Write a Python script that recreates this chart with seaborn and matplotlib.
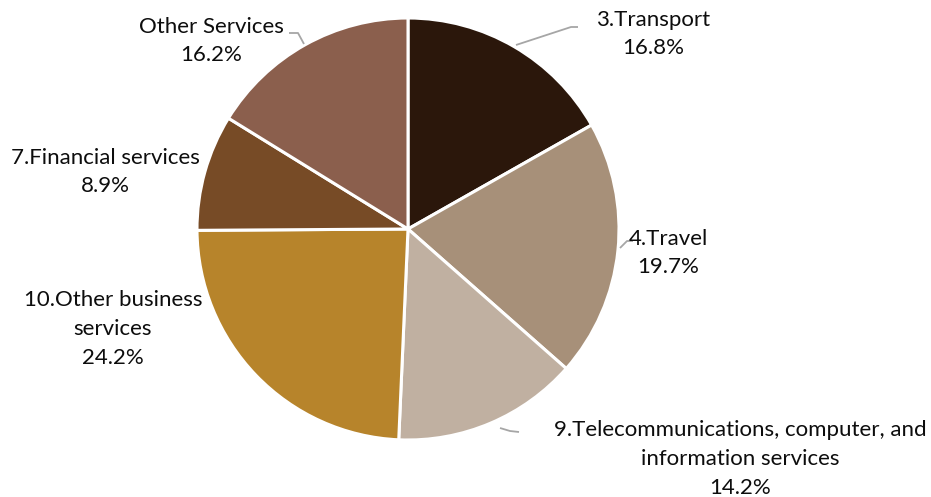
import matplotlib
matplotlib.use("Agg")
import matplotlib.pyplot as plt
import seaborn as sns

categories = ["3.Transport", "4.Travel",
              "9.Telecommunications, computer, and\ninformation services",
              "10.Other business\nservices", "7.Financial services", "Other Services"]
shares = [16.8, 19.7, 14.2, 24.2, 8.9, 16.2]
colors = ["#2b170b", "#a79079", "#c0b0a1", "#b7842b", "#774b26", "#8b5f4d"]

sns.set_theme(style="white")
plt.rcParams["font.family"] = ["Lato", "DejaVu Sans"]

W, H = 931, 497
fig = plt.figure(figsize=(W / 100, H / 100), dpi=100)
cx, cy, r = 408, 229, 211
ax = fig.add_axes([(cx - r) / W, (H - cy - r) / H, 2 * r / W, 2 * r / H])
ax.pie(shares, colors=colors, startangle=90, counterclock=False, radius=1,
       wedgeprops=dict(edgecolor="white", linewidth=2.2))
ax.set_xlim(-1, 1)
ax.set_ylim(-1, 1)
ax.set_aspect("equal")
ax.axis("off")


def to_data(px, py):
    return (px - cx) / r, (cy - py) / r


# label placement (pixel centres of text blocks) and leader lines
label_pos = [(653, 34), (668, 253), (740, 459), (113, 329), (105, 172), (211, 41)]
leaders = {
    0: [(516, 45), (571, 27), (578, 27)],
    1: [(620, 248), (627, 241), (633, 241)],
    2: [(500, 428), (510, 431), (519, 432)],
    5: [(304, 44), (298, 33), (289, 33)],
}

for i, (cat, val) in enumerate(zip(categories, shares)):
    x, y = to_data(*label_pos[i])
    ax.text(x, y, f"{cat}\n{val:.1f}%", ha="center", va="center",
            fontsize=16, color="#0d0d0d", linespacing=1.55, clip_on=False)
    if i in leaders:
        pts = [to_data(*p) for p in leaders[i]]
        ax.plot([p[0] for p in pts], [p[1] for p in pts], color="#a6a6a6",
                lw=1.3, clip_on=False, solid_capstyle="butt")

fig.savefig("out.png", dpi=100)
